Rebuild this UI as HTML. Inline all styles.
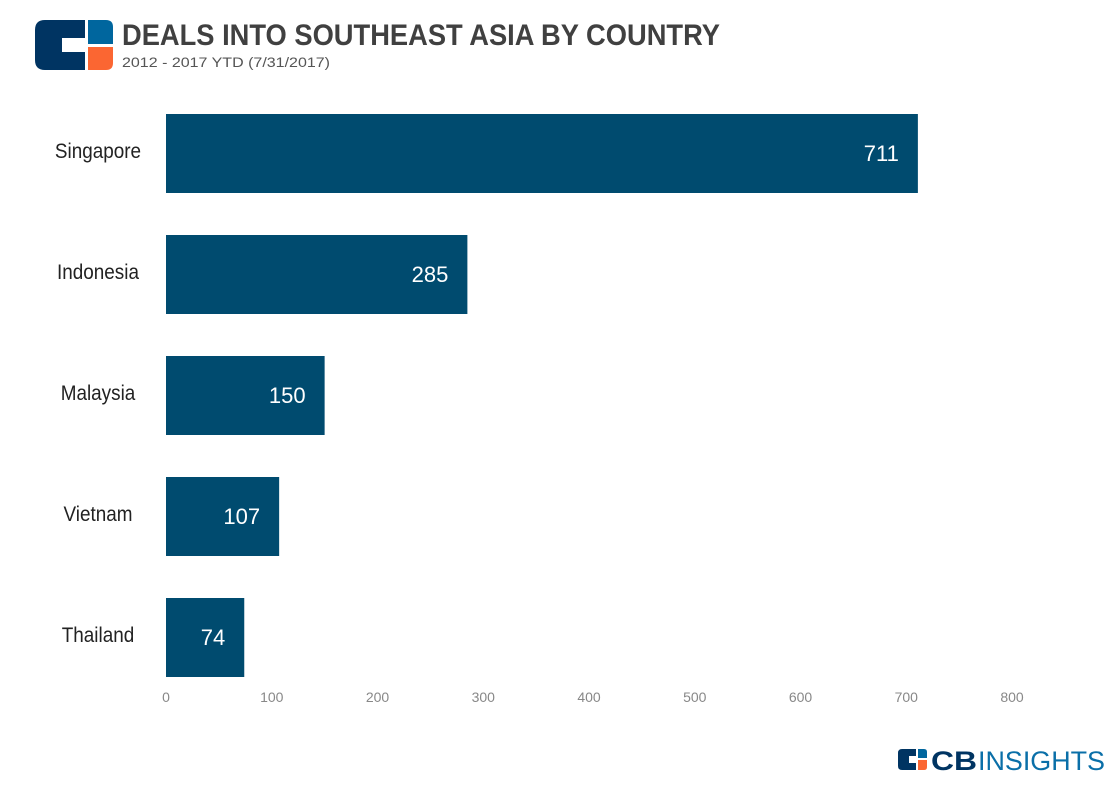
<!DOCTYPE html>
<html><head><meta charset="utf-8"><style>
body{margin:0;background:#fff;width:1115px;height:803px;overflow:hidden;font-family:"Liberation Sans",sans-serif}
</style></head><body>
<svg width="1115" height="803" xmlns="http://www.w3.org/2000/svg">
<g>
<path d="M45,20 H85 V38 H62 V52 H85 V70 H45 Q35,70 35,60 V30 Q35,20 45,20 Z" fill="#003462"/>
<path d="M88,20 H106 Q113,20 113,27 V44 H88 Z" fill="#00669e"/>
<path d="M88,47 H113 V63 Q113,70 106,70 H88 Z" fill="#fb6632"/>
</g>
<text x="122" y="45" font-size="30" font-weight="bold" fill="#404040" textLength="598" lengthAdjust="spacingAndGlyphs">DEALS INTO SOUTHEAST ASIA BY COUNTRY</text>
<text x="122" y="67" font-size="14" fill="#555" textLength="208" lengthAdjust="spacingAndGlyphs">2012 - 2017 YTD (7/31/2017)</text>
<g id="plot"></g>
<g>
<path d="M902,749 H916 V756 H909 V763 H916 V770 H902 Q898,770 898,766 V753 Q898,749 902,749Z" fill="#003462"/>
<path d="M918,749 H924 Q927,749 927,752 V758 H918Z" fill="#00669e"/>
<path d="M918,760 H927 V767 Q927,770 924,770 H918Z" fill="#fb6632"/>
<text x="931" y="770" font-size="27" font-weight="bold" fill="#003462" textLength="46" lengthAdjust="spacingAndGlyphs">CB</text>
<text x="978" y="770" font-size="27" fill="#0a6fa8" textLength="127" lengthAdjust="spacingAndGlyphs">INSIGHTS</text>
</g>
</svg>
<script>
const categories=["Singapore","Indonesia","Malaysia","Vietnam","Thailand"];
const values=[711,285,150,107,74];
const ticks=[0,100,200,300,400,500,600,700,800];
const x=v=>166+v*(846/800);
const y=i=>114+i*121;
const NS="http://www.w3.org/2000/svg";
const g=document.getElementById('plot');
function mk(t,a,txt){const e=document.createElementNS(NS,t);for(const k in a)e.setAttribute(k,a[k]);if(txt!==undefined)e.textContent=txt;g.appendChild(e);return e;}
categories.forEach((c,i)=>{
 const r=mk('rect',{x:x(0),y:y(i),width:x(values[i])-x(0),height:79,fill:'#004b6f'});
 
 
 const l=mk('text',{x:98,y:y(i)+44,'font-size':21,fill:'#222','text-anchor':'middle',transform:'translate(98 0) scale(0.9 1) translate(-98 0)'},c);
 
 
 const v=mk('text',{x:x(values[i])-19,y:y(i)+47,'font-size':22,fill:'#fff','text-anchor':'end'},values[i]);
 
 
});
ticks.forEach(t=>{
 const e=mk('text',{x:x(t),y:702,'font-size':14,fill:'#888','text-anchor':'middle'},t);
 
 
});
</script>
</body></html>
